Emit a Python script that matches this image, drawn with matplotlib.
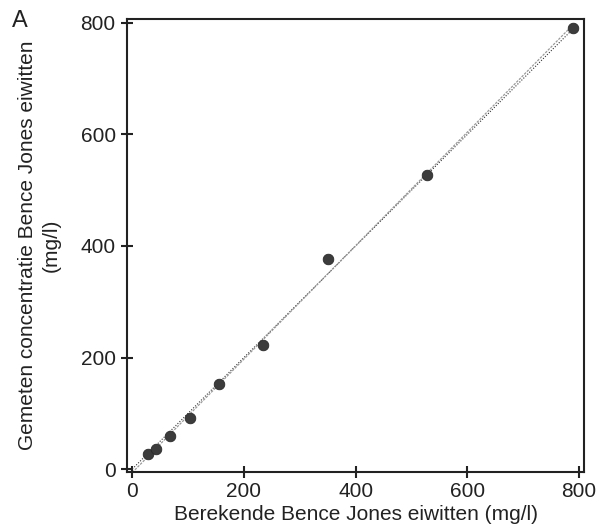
import numpy as np
import matplotlib
matplotlib.use("Agg")
import matplotlib.pyplot as plt

# berekende (x) vs gemeten (y) Bence Jones eiwitten, mg/l
berekend = [28.7, 42.4, 68.0, 103.3, 155.2, 233.5, 351.0, 527.0, 789.6]
gemeten = [27.5, 36.4, 58.6, 91.0, 152.0, 222.0, 376.0, 527.0, 791.6]
ticks = [0, 200, 400, 600, 800]

plt.rcParams['font.family'] = ['Liberation Sans', 'DejaVu Sans']

fig = plt.figure(figsize=(6.03, 5.32), dpi=100)
ax = fig.add_axes([0.2114, 0.1133, 0.757, 0.851])

# lijn x = y en regressielijn, van 0 tot het hoogste punt
xmax = max(berekend)
lijn_x = np.array([0, xmax])
slope, intercept = np.polyfit(berekend, gemeten, 1)
ax.plot(lijn_x, lijn_x, color='#333333', linestyle=(0, (1, 1.5)), linewidth=0.8, zorder=2)
ax.plot(lijn_x, slope * lijn_x + intercept, color='#999999', linestyle=(0, (2, 1)),
        linewidth=0.9, zorder=2)

ax.scatter(berekend, gemeten, s=58, color='#3c3c3c', edgecolor='#2a2a2a',
           linewidth=0.6, zorder=3)

ax.set_xlim(-8.6, 808.8)
ax.set_ylim(-4.8, 807)
ax.set_xticks(ticks)
ax.set_yticks(ticks)

for sp in ax.spines.values():
    sp.set_linewidth(1.5)
    sp.set_color('#222222')

ax.tick_params(direction='inout', length=9, width=1.5, color='#222222',
               labelsize=15, labelcolor='#222222')
ax.tick_params(axis='x', pad=3)
ax.tick_params(axis='y', pad=4)

ax.set_xlabel('Berekende Bence Jones eiwitten (mg/l)', fontsize=15,
              color='#222222', labelpad=3)
ax.set_ylabel('Gemeten concentratie Bence Jones eiwitten\n(mg/l)', fontsize=15,
              color='#222222', labelpad=14, linespacing=1.35)

fig.text(12 / 603, 1 - 27 / 532, 'A', fontsize=17, color='#222222',
         ha='left', va='baseline')

fig.savefig('out.png', dpi=100)
